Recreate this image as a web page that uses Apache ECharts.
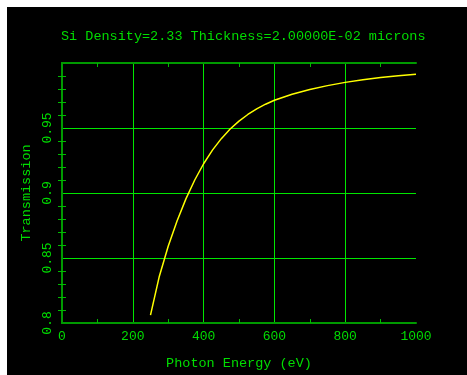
<!DOCTYPE html>
<html>
<head>
<meta charset="utf-8">
<title>Si transmission</title>
<script src="https://cdn.jsdelivr.net/npm/echarts@6/dist/echarts.min.js"></script>
<style>
  html, body { margin: 0; padding: 0; background: #fff; }
  #chart { width: 467px; height: 375px; }
</style>
</head>
<body>
<div id="chart"></div>
<script>
// Photon energy (eV) and transmission of a 20 nm silicon film
const energy = [250, 275, 300, 325, 350, 375, 400, 425, 450, 475, 500, 525, 550, 575, 600, 650, 700, 750, 800, 850, 900, 950, 1000];
const transmission = [0.806, 0.836, 0.859, 0.8785, 0.8955, 0.910, 0.9225, 0.933, 0.9418, 0.9492, 0.9553, 0.9604, 0.9647, 0.9683, 0.9713, 0.9760, 0.9796, 0.9826, 0.9851, 0.9871, 0.9888, 0.9902, 0.9914];

const xTicks = [0, 200, 400, 600, 800, 1000];
const yTicks = [0.8, 0.85, 0.9, 0.95];

const titleText = 'Si Density=2.33 Thickness=2.00000E-02 microns';
const xName = 'Photon Energy (eV)';
const yName = 'Transmission';

const GREEN = '#00dd00';
const GRID = '#00e600';
const FRAME = '#009a00';
const FONT = '"Liberation Mono", "DejaVu Sans Mono", monospace';

const chart = echarts.init(document.getElementById('chart'), null, { renderer: 'canvas' });

const baseAxis = {
  axisLine: { show: true, lineStyle: { color: FRAME, width: 2 } },
  axisTick: { show: false, inside: true },
  minorTick: { show: true, length: 4, lineStyle: { color: '#00bb00', width: 1 } }
};

chart.setOption({
  backgroundColor: '#ffffff',
  animation: false,
  graphic: [{
    type: 'rect', z: -10, silent: true,
    shape: { x: 7, y: 7, width: 470, height: 380 },
    style: { fill: '#000000' }
  }],
  title: {
    text: titleText,
    left: 56, top: 24,
    textStyle: { color: GREEN, fontFamily: FONT, fontSize: 13.5, fontWeight: 'normal' }
  },
  grid: { left: 62, right: 51, top: 63, bottom: 51, containLabel: false },
  xAxis: [
    Object.assign({}, baseAxis, {
      type: 'value', position: 'bottom', min: 0, max: 1000, interval: 200,
      minorTick: Object.assign({}, baseAxis.minorTick, { splitNumber: 2 }),
      axisLabel: {
        color: GREEN, fontFamily: FONT, fontSize: 13, margin: 7,
        formatter: (v) => xTicks.includes(v) ? String(v) : ''
      },
      splitLine: { show: true, showMinLine: false, showMaxLine: false, lineStyle: { color: GRID, width: 1 } },
      name: xName, nameLocation: 'middle', nameGap: 33,
      nameTextStyle: { color: GREEN, fontFamily: FONT, fontSize: 13.5 }
    }),
    Object.assign({}, baseAxis, {
      type: 'value', position: 'top', min: 0, max: 1000, interval: 200,
      minorTick: Object.assign({}, baseAxis.minorTick, { splitNumber: 2 }),
      axisLabel: { show: false },
      splitLine: { show: false }
    })
  ],
  yAxis: [
    Object.assign({}, baseAxis, {
      type: 'value', position: 'left', min: 0.8, max: 1.0, interval: 0.05,
      minorTick: Object.assign({}, baseAxis.minorTick, { splitNumber: 5 }),
      axisLabel: {
        color: GREEN, fontFamily: FONT, fontSize: 13, rotate: 90, margin: 8,
        formatter: (v) => {
          const r = Math.round(v * 100) / 100;
          return yTicks.includes(r) ? String(r) : '';
        }
      },
      splitLine: { show: true, showMinLine: false, showMaxLine: false, lineStyle: { color: GRID, width: 1 } },
      name: yName, nameLocation: 'middle', nameGap: 27,
      nameTextStyle: { color: GREEN, fontFamily: FONT, fontSize: 13.5 }
    }),
    Object.assign({}, baseAxis, {
      type: 'value', position: 'right', min: 0.8, max: 1.0, interval: 0.05,
      minorTick: Object.assign({}, baseAxis.minorTick, { splitNumber: 5 }),
      axisLabel: { show: false },
      splitLine: { show: false }
    })
  ],
  series: [{
    type: 'line',
    xAxisIndex: 0, yAxisIndex: 0,
    data: energy.map((e, i) => [e, transmission[i]]),
    showSymbol: false,
    smooth: false,
    lineStyle: { color: '#ffff00', width: 1.5 },
    z: 5
  }]
});
</script>
</body>
</html>
